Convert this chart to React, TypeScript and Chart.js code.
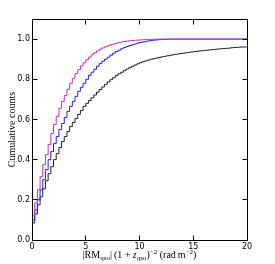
import React, { useEffect, useRef } from "react";
import { Chart, registerables } from "chart.js";

Chart.register(...registerables);

// bin width of the cumulative histograms (x in rad m^-2)
const binWidth = 0.25;
const xTicks = [0, 5, 10, 15, 20];
const yTicks = [0, 0.2, 0.4, 0.6, 0.8, 1.0];

// cumulative fraction per bin (bins start at 0, 0.25, 0.5, ...)
const magentaCum = [
  0.05, 0.12, 0.185, 0.25, 0.315, 0.375, 0.425, 0.475, 0.53, 0.575,
  0.615, 0.655, 0.69, 0.72, 0.75, 0.78, 0.805, 0.828, 0.848, 0.866,
  0.882, 0.897, 0.91, 0.922, 0.932, 0.941, 0.949, 0.956, 0.962, 0.967,
  0.972, 0.976, 0.98, 0.983, 0.986, 0.988, 0.99, 0.992, 0.993, 0.994,
  0.995, 0.996, 0.997, 0.998, 0.998, 0.999, 0.999, 1, 1, 1,
  1, 1, 1, 1, 1, 1, 1, 1, 1, 1,
  1, 1, 1, 1, 1, 1, 1, 1, 1, 1,
  1, 1, 1, 1, 1, 1, 1, 1, 1, 1,
];

const blueCum = [
  0.05, 0.1, 0.15, 0.2, 0.25, 0.3, 0.35, 0.4, 0.44, 0.48,
  0.515, 0.55, 0.58, 0.61, 0.64, 0.665, 0.69, 0.715, 0.74, 0.76,
  0.78, 0.8, 0.82, 0.835, 0.85, 0.865, 0.878, 0.89, 0.9, 0.91,
  0.92, 0.93, 0.938, 0.945, 0.952, 0.958, 0.963, 0.968, 0.972, 0.976,
  0.98, 0.983, 0.986, 0.989, 0.991, 0.993, 0.995, 0.996, 0.997, 0.998,
  0.999, 0.999, 1, 1, 1, 1, 1, 1, 1, 1,
  1, 1, 1, 1, 1, 1, 1, 1, 1, 1,
  1, 1, 1, 1, 1, 1, 1, 1, 1, 1,
];

const blackCum = [
  0.04, 0.085, 0.13, 0.175, 0.215, 0.255, 0.295, 0.33, 0.365, 0.4,
  0.43, 0.46, 0.49, 0.515, 0.54, 0.565, 0.585, 0.605, 0.625, 0.645,
  0.665, 0.68, 0.694, 0.708, 0.722, 0.736, 0.749, 0.762, 0.775, 0.787,
  0.798, 0.808, 0.818, 0.827, 0.835, 0.843, 0.851, 0.858, 0.865, 0.871,
  0.877, 0.883, 0.888, 0.892, 0.896, 0.9, 0.903, 0.906, 0.909, 0.912,
  0.914, 0.917, 0.919, 0.922, 0.924, 0.926, 0.928, 0.93, 0.932, 0.934,
  0.936, 0.938, 0.939, 0.941, 0.942, 0.944, 0.945, 0.947, 0.948, 0.949,
  0.951, 0.952, 0.953, 0.954, 0.955, 0.957, 0.958, 0.959, 0.96, 0.961,
];

const yTitle = "Cumulative counts";

function toSteps(vals: number[]) {
  const pts = vals.map((v, i) => ({ x: i * binWidth, y: v }));
  pts.push({ x: vals.length * binWidth, y: vals[vals.length - 1] });
  return pts;
}

const SERIF = "'Liberation Serif', 'DejaVu Serif', serif";

type Seg = { t: string; size: number; dy: number; italic?: boolean };

const xTitleSegs: Seg[] = [
  { t: "|RM", size: 10, dy: 0 },
  { t: "qso", size: 7, dy: 2 },
  { t: "|\u2009(1 + ", size: 10, dy: 0 },
  { t: "z", size: 10, dy: 0, italic: true },
  { t: "qso", size: 7, dy: 2 },
  { t: ")", size: 10, dy: 0 },
  { t: "\u22122", size: 7, dy: -4 },
  { t: " (rad\u2009m", size: 10, dy: 0 },
  { t: "\u22122", size: 7, dy: -4 },
  { t: ")", size: 10, dy: 0 },
];

const framePlugin = {
  id: "frameTicks",
  afterDatasetsDraw(chart: any) {
    const { ctx, chartArea: a, scales } = chart;
    const L = Math.floor(a.left) + 0.5;
    const R = Math.floor(a.right) + 0.5;
    const T = Math.floor(a.top) + 0.5;
    const B = Math.floor(a.bottom) + 0.5;
    ctx.save();
    ctx.strokeStyle = "#000";
    ctx.lineWidth = 1;
    ctx.beginPath();
    ctx.rect(L, T, R - L, B - T);
    ctx.stroke();
    const tl = 5;
    ctx.beginPath();
    for (const v of xTicks) {
      const px = Math.floor(scales.x.getPixelForValue(v)) + 0.5;
      ctx.moveTo(px, B);
      ctx.lineTo(px, B - tl);
      ctx.moveTo(px, T);
      ctx.lineTo(px, T + tl);
    }
    for (const v of yTicks) {
      const py = Math.floor(scales.y.getPixelForValue(v)) + 0.5;
      ctx.moveTo(L, py);
      ctx.lineTo(L + tl, py);
      ctx.moveTo(R, py);
      ctx.lineTo(R - tl, py);
    }
    ctx.stroke();

    // y title
    ctx.fillStyle = "#000";
    ctx.font = `10px ${SERIF}`;
    ctx.textAlign = "center";
    ctx.textBaseline = "middle";
    ctx.save();
    ctx.translate(12.5, (a.top + a.bottom) / 2);
    ctx.rotate(-Math.PI / 2);
    ctx.fillText(yTitle, 0, 0);
    ctx.restore();

    // x title with sub/superscripts
    ctx.textAlign = "left";
    ctx.textBaseline = "alphabetic";
    let total = 0;
    const widths: number[] = [];
    for (const s of xTitleSegs) {
      ctx.font = `${s.italic ? "italic " : ""}${s.size}px ${SERIF}`;
      const w = ctx.measureText(s.t).width;
      widths.push(w);
      total += w;
    }
    let x = (a.left + a.right) / 2 - total / 2;
    const base = 257.5;
    xTitleSegs.forEach((s, i) => {
      ctx.font = `${s.italic ? "italic " : ""}${s.size}px ${SERIF}`;
      ctx.fillText(s.t, x, base + s.dy);
      x += widths[i];
    });
    ctx.restore();
  },
};

export default function App() {
  const ref = useRef<HTMLCanvasElement | null>(null);
  useEffect(() => {
    if (!ref.current) return;
    const tickFont = { family: "'DejaVu Sans', sans-serif", size: 8 };
    const chart = new Chart(ref.current, {
      type: "line",
      data: {
        datasets: [
          {
            data: toSteps(magentaCum),
            borderColor: "#c030c8",
            borderWidth: 1,
            stepped: "after",
            pointRadius: 0,
            fill: false,
          },
          {
            data: toSteps(blueCum),
            borderColor: "#2020f0",
            borderWidth: 1,
            stepped: "after",
            pointRadius: 0,
            fill: false,
          },
          {
            data: toSteps(blackCum),
            borderColor: "#222222",
            borderWidth: 1,
            stepped: "after",
            pointRadius: 0,
            fill: false,
          },
        ],
      },
      options: {
        responsive: false,
        animation: false,
        layout: { padding: { left: 0, right: 28, top: 19, bottom: 0 } },
        plugins: { legend: { display: false }, tooltip: { enabled: false } },
        scales: {
          x: {
            type: "linear",
            min: 0,
            max: 20,
            grid: { display: false, drawTicks: false },
            border: { display: false },
            afterBuildTicks: (s: any) => {
              s.ticks = xTicks.map((v) => ({ value: v }));
            },
            afterFit: (s: any) => {
              s.height = 24;
            },
            ticks: {
              font: tickFont,
              color: "#000",
              padding: 2,
              maxRotation: 0,
              autoSkip: false,
              callback: (v: any) => String(v),
            },
          },
          y: {
            type: "linear",
            min: 0,
            max: 1.1,
            grid: { display: false, drawTicks: false },
            border: { display: false },
            afterBuildTicks: (s: any) => {
              s.ticks = yTicks.map((v) => ({ value: v }));
            },
            afterFit: (s: any) => {
              s.width = 32;
            },
            ticks: {
              font: tickFont,
              color: "#000",
              padding: 2,
              autoSkip: false,
              callback: (v: any) => Number(v).toFixed(1),
            },
          },
        },
      },
      plugins: [framePlugin],
    });
    return () => chart.destroy();
  }, []);
  return (
    <div style={{ position: "absolute", left: 0, top: 0, width: 275, height: 264, background: "#fff" }}>
      <canvas ref={ref} width={275} height={264} style={{ display: "block" }} />
    </div>
  );
}
